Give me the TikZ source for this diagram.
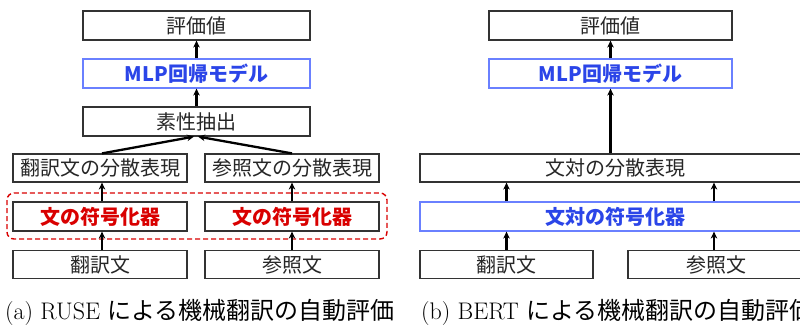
\documentclass[tikz,border=0pt]{standalone}
\usepackage{fontspec}
\newfontfamily\jp{Noto Sans CJK JP}
\usetikzlibrary{arrows.meta}
\definecolor{encred}{HTML}{D90000}
\definecolor{mlpblue}{HTML}{2B45E8}
\definecolor{mlpborder}{HTML}{6A80FF}
\definecolor{boxgray}{HTML}{333333}
\tikzset{
  box/.style={draw=boxgray, line width=1.2pt, fill=white, inner sep=0pt,
    font=\jp\fontsize{20}{23}\selectfont, text=black!85},
  bluebox/.style={box, draw=mlpborder, text=mlpblue, font=\jp\bfseries\fontsize{20}{23}\selectfont},
  redbox/.style={box, text=encred, font=\jp\bfseries\fontsize{20}{23}\selectfont},
  arr/.style={-{Stealth[length=7pt,width=6.5pt]}, line width=2.3pt, black},
  captext/.style={inner sep=0pt, font=\fontsize{24}{28}\selectfont, anchor=west},
}
\begin{document}
\begin{tikzpicture}[x=1pt,y=-1pt]
\useasboundingbox (0,0) rectangle (800,327);
% ---------- (a) ----------
\node[box, minimum width=227, minimum height=29] (evalA) at (196.5,25.5) {評価値};
\node[bluebox, minimum width=227, minimum height=29] (mlpA) at (196.5,73.5) {MLP回帰モデル};
\node[box, minimum width=227, minimum height=29] (featA) at (196.5,121.5) {素性抽出};
\node[box, minimum width=174, minimum height=28] (repL) at (100,168) {翻訳文の分散表現};
\node[box, minimum width=174, minimum height=28] (repR) at (292,168) {参照文の分散表現};
\draw[encred, line width=1.4pt, dash pattern=on 5pt off 3pt, rounded corners=7pt] (7,193) rectangle (387,239);
\node[redbox, minimum width=174, minimum height=29] (encL) at (100,216.5) {文の符号化器};
\node[redbox, minimum width=174, minimum height=29] (encR) at (292,216.5) {文の符号化器};
\node[box, minimum width=174, minimum height=28] (inL) at (100,264.5) {翻訳文};
\node[box, minimum width=174, minimum height=28] (inR) at (292,264.5) {参照文};
\draw[arr] ([xshift=2pt]inL.north) -- ([xshift=2pt]encL.south);
\draw[arr] (inR.north) -- (encR.south);
\draw[arr] ([xshift=2pt]encL.north) -- ([xshift=2pt]repL.south);
\draw[arr] (encR.north) -- (repR.south);
\draw[arr] ([xshift=2pt]repL.north) -- ([xshift=-2.5pt]featA.south);
\draw[arr] (repR.north) -- ([xshift=1.5pt]featA.south);
\draw[arr] (featA.north) -- (mlpA.south);
\draw[arr] (mlpA.north) -- (evalA.south);
\node[captext] (capA) at (5,312) {(a) RUSE {\jp による機械翻訳の自動評価}};
% ---------- (b) ----------
\node[box, minimum width=243, minimum height=29] (evalB) at (610.5,25.5) {評価値};
\node[bluebox, minimum width=243, minimum height=29] (mlpB) at (610.5,73.5) {MLP回帰モデル};
\node[box, minimum width=390, minimum height=28] (repB) at (615,168) {文対の分散表現};
\node[bluebox, minimum width=390, minimum height=29] (encB) at (615,216.5) {文対の符号化器};
\node[box, minimum width=173, minimum height=28] (inBL) at (506.5,264.5) {翻訳文};
\node[box, minimum width=177, minimum height=28] (inBR) at (716.5,264.5) {参照文};
\draw[arr] (inBL.north) -- (inBL.north |- encB.south);
\draw[arr] ([xshift=-2.5pt]inBR.north) -- ([xshift=-2.5pt]inBR.north |- encB.south);
\draw[arr] (inBL.north |- encB.north) -- (inBL.north |- repB.south);
\draw[arr] ([xshift=-2.5pt]inBR.north |- encB.north) -- ([xshift=-2.5pt]inBR.north |- repB.south);
\draw[arr] (mlpB.south |- repB.north) -- (mlpB.south);
\draw[arr] (mlpB.north) -- (evalB.south);
\node[captext] (capB) at (421,312) {(b) BERT {\jp による機械翻訳の自動評価}};
\end{tikzpicture}
\end{document}
